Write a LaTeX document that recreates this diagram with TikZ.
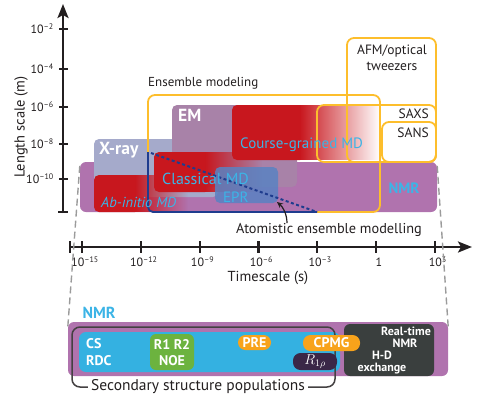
\documentclass[tikz,border=0pt]{standalone}
\usepackage{fontspec}
\setmainfont{PT Sans}
\usetikzlibrary{arrows.meta,fadings,positioning}

\definecolor{axisblack}{HTML}{231F20}
\definecolor{nmrpurple}{HTML}{B073AE}
\definecolor{xraygray}{HTML}{A5AACB}
\definecolor{emmauve}{HTML}{A882A8}
\definecolor{mdred}{HTML}{C8171E}
\definecolor{eprblue}{HTML}{5A82C2}
\definecolor{labcyan}{HTML}{3CB4E6}
\definecolor{ensyellow}{HTML}{FDBE2C}
\definecolor{atomblue}{HTML}{1F3C8E}
\definecolor{nmrcyan}{HTML}{34B1E1}
\definecolor{relaxgreen}{HTML}{6CB33F}
\definecolor{pillorange}{HTML}{F8A31B}
\definecolor{darkslate}{HTML}{3A3F3E}
\definecolor{rhopurple}{HTML}{3A2747}
\definecolor{zoomgray}{HTML}{9B9B9B}

\newcommand{\tenpow}[1]{10\textsuperscript{#1}}
\newcommand{\fsz}[1]{\fontsize{#1}{#1}\selectfont}

\tikzset{
  axisline/.style={line width=2.4pt, draw=axisblack},
  tickline/.style={line width=2.2pt, draw=axisblack},
  ticklab/.style={font=\fsz{12}, text=axisblack, inner sep=1pt},
  axislab/.style={font=\fsz{14.5}, text=axisblack, inner sep=0pt},
  plainlab/.style={font=\fsz{13.5}, text=axisblack, inner sep=0pt},
  methodlab/.style={font=\fsz{15}, text=labcyan, inner sep=0pt, anchor=west},
  boxlab/.style={font=\fsz{17.5}\bfseries, text=white, inner sep=0pt, anchor=west},
  ensbox/.style={draw=ensyellow, line width=1.8pt, rounded corners=7pt},
  nmrpanel/.style={rectangle, rounded corners=6pt, inner sep=0pt},
  nmrtxt/.style={font=\fsz{14}\bfseries, text=white, inner sep=0pt},
  rttxt/.style={font=\fsz{12}\bfseries, text=white, inner sep=0pt},
  pill/.style={nmrpanel, rounded corners=7.5pt, font=\fsz{14}\bfseries, text=white},
  zoomline/.style={draw=zoomgray, line width=1.4pt, dash pattern=on 7pt off 4pt},
}

\begin{document}
\begin{tikzpicture}[x=1pt,y=-1pt]
\useasboundingbox (0,0) rectangle (481,413);

% NMR band
\node[nmrpanel, fill=nmrpurple, minimum width=357pt, minimum height=50pt] (nmrtop) at (258.5,187) {};

% techniques
\fill[xraygray, rounded corners=5pt] (94,139) rectangle (218,197);
\fill[emmauve, rounded corners=5pt] (172,105) rectangle (297,187);

% simulations, red fading out to the right
\fill[mdred] (135,175) [rounded corners=5pt] -- (94,175) -- (94,212) [sharp corners] -- (135,212) -- cycle;
\fill[mdred, path fading=east] (135,175) rectangle (188,212);
\fill[mdred] (205,152) [rounded corners=5pt] -- (154,152) -- (154,192) [sharp corners] -- (205,192) -- cycle;
\fill[mdred, path fading=east] (205,152) rectangle (262,192);
\fill[mdred] (300,105) [rounded corners=5pt] -- (232,105) -- (232,160) [sharp corners] -- (300,160) -- cycle;
\fill[mdred, path fading=east] (300,105) rectangle (380,160);

\fill[eprblue, opacity=0.85, rounded corners=5pt] (215,167) rectangle (278,203);

% ensemble outlines
\draw[ensbox] (148,152) -- (148,95) -- (380,95) -- (380,212) -- (317,212);
\draw[atomblue, line width=1.8pt, rounded corners=5pt] (148,152) -- (148,212) -- (317,212);
\draw[atomblue, line width=2pt, dash pattern=on 3pt off 2.5pt] (151,153) -- (317,212);
\draw[ensbox] (317,105) rectangle (436,162);
\draw[ensbox] (347,38) rectangle (436,162);
\draw[ensbox] (382,122) rectangle (436,162);

% labels
\node[boxlab] (xraylab) at (99,150) {X-ray};
\node[boxlab] (emlab) at (178,115) {EM};
\node[methodlab] (cgmdlab) at (240,145) {Course-grained MD};
\node[methodlab, font=\fsz{16}] (clmdlab) at (162,179) {Classical MD};
\node[methodlab, font=\fsz{14.5}\itshape] (aimdlab) at (101,202) {Ab-initio MD};
\node[methodlab] (eprlab) at (223,197) {EPR};
\node[font=\fsz{15}\bfseries, text=labcyan, inner sep=0pt] (nmrtoplab) at (404,188) {NMR};
\node[plainlab, font=\fsz{13}, anchor=west] (enslab) at (148,83) {Ensemble modeling};
\node[plainlab, align=center] (afmlab) at (392,58) {AFM/optical\\[2pt]tweezers};
\node[plainlab, anchor=east] (saxslab) at (429,114) {SAXS};
\node[plainlab, anchor=east] (sanslab) at (429,133) {SANS};
\node[plainlab, font=\fsz{14.3}] (atomlab) at (329,230) {Atomistic ensemble modelling};
\coordinate (atomtip) at (277,202);
\draw[axisblack, line width=1.2pt, -{Stealth[length=6pt,width=5.5pt]}]
  ([xshift=-42pt]atomlab.north) .. controls +(0,-9) and +(6,5) .. (atomtip);

% axes
\draw[axisline, -{Stealth[length=14pt,width=11pt,inset=3pt]}] (63,213) -- (63,4);
\draw[tickline] (58,212) -- (68,212);
\foreach \yy/\ee in {29/--2, 69/--4, 107/--6, 144/--8, 179/--10}{%
  \draw[tickline] (59,\yy) -- (68,\yy);
  \node[ticklab, anchor=east] (ytick\yy) at (55,\yy) {\tenpow{\ee}};
}
\draw[axisline, -{Stealth[length=14pt,width=11pt,inset=3pt]}] (69,247) -- (472,247);
\draw[tickline] (70,241) -- (70,253);
\foreach \i/\lab in {0/\tenpow{--15}, 1/\tenpow{--12}, 2/\tenpow{--9}, 3/\tenpow{--6}, 4/\tenpow{--3}, 5/1, 6/\tenpow{3}}{%
  \pgfmathsetmacro{\xx}{82+58.8*\i}
  \draw[tickline] (\xx,241) -- (\xx,253);
  \node[ticklab] (xtick\i) at (\xx+3,262) {\lab};
}
\node[axislab, rotate=90] (ylab) at (21,127) {Length scale (m)};
\node[axislab] (xlab) at (268,278) {Timescale (s)};

% NMR detail
\node[nmrpanel, fill=nmrpurple, minimum width=380pt, minimum height=54pt] (nmrbot) at (258,349) {};
\draw[zoomline] ([yshift=-4pt]nmrtop.north west) -- ([yshift=-5pt]nmrbot.north west);
\draw[zoomline] ([yshift=-4pt]nmrtop.north east) -- ([yshift=-5pt]nmrbot.north east);
\node[font=\fsz{16}\bfseries, text=labcyan, inner sep=0pt] (nmrbotlab) at (99,313) {NMR};
\node[nmrpanel, fill=nmrcyan, rounded corners=7pt, minimum width=261pt, minimum height=40pt] (cspanel) at (209.5,352) {};
\node[nmrpanel, fill=darkslate, minimum width=90pt, minimum height=52pt] (rtpanel) at (389,350) {};
\draw[axisblack!85, line width=1.5pt, rounded corners=8pt] (72,327) rectangle (335,387);
\node[nmrpanel, fill=relaxgreen, minimum width=44pt, minimum height=36pt] (relaxpanel) at (172,352) {};
\node[pill, fill=pillorange, minimum width=33pt, minimum height=15pt] (prepill) at (254.5,342.5) {PRE};
\node[pill, fill=pillorange, minimum width=57pt, minimum height=16pt] (cpmgpill) at (331.5,343) {CPMG};
\node[pill, fill=rhopurple, minimum width=44pt, minimum height=17pt] (rhopill) at (315,361.5) {$R_{1\rho}$};
\node[nmrtxt, anchor=west] (cslab) at (86,344) {CS};
\node[nmrtxt, anchor=west] (rdclab) at (86,361) {RDC};
\node[nmrtxt] (r12lab) at (172,344) {R1 R2};
\node[nmrtxt] (noelab) at (172,361) {NOE};
\node[rttxt] (rtlab) at (406,331) {Real-time};
\node[rttxt] (rtnmrlab) at (405,343) {NMR};
\node[rttxt] (hdlab) at (382,355.5) {H-D};
\node[rttxt] (exlab) at (382,369) {exchange};
\node[plainlab, font=\fsz{15.5}, fill=white, inner xsep=3pt, inner ysep=1pt] (sspop) at (198,387) {Secondary structure populations};
\end{tikzpicture}
\end{document}
